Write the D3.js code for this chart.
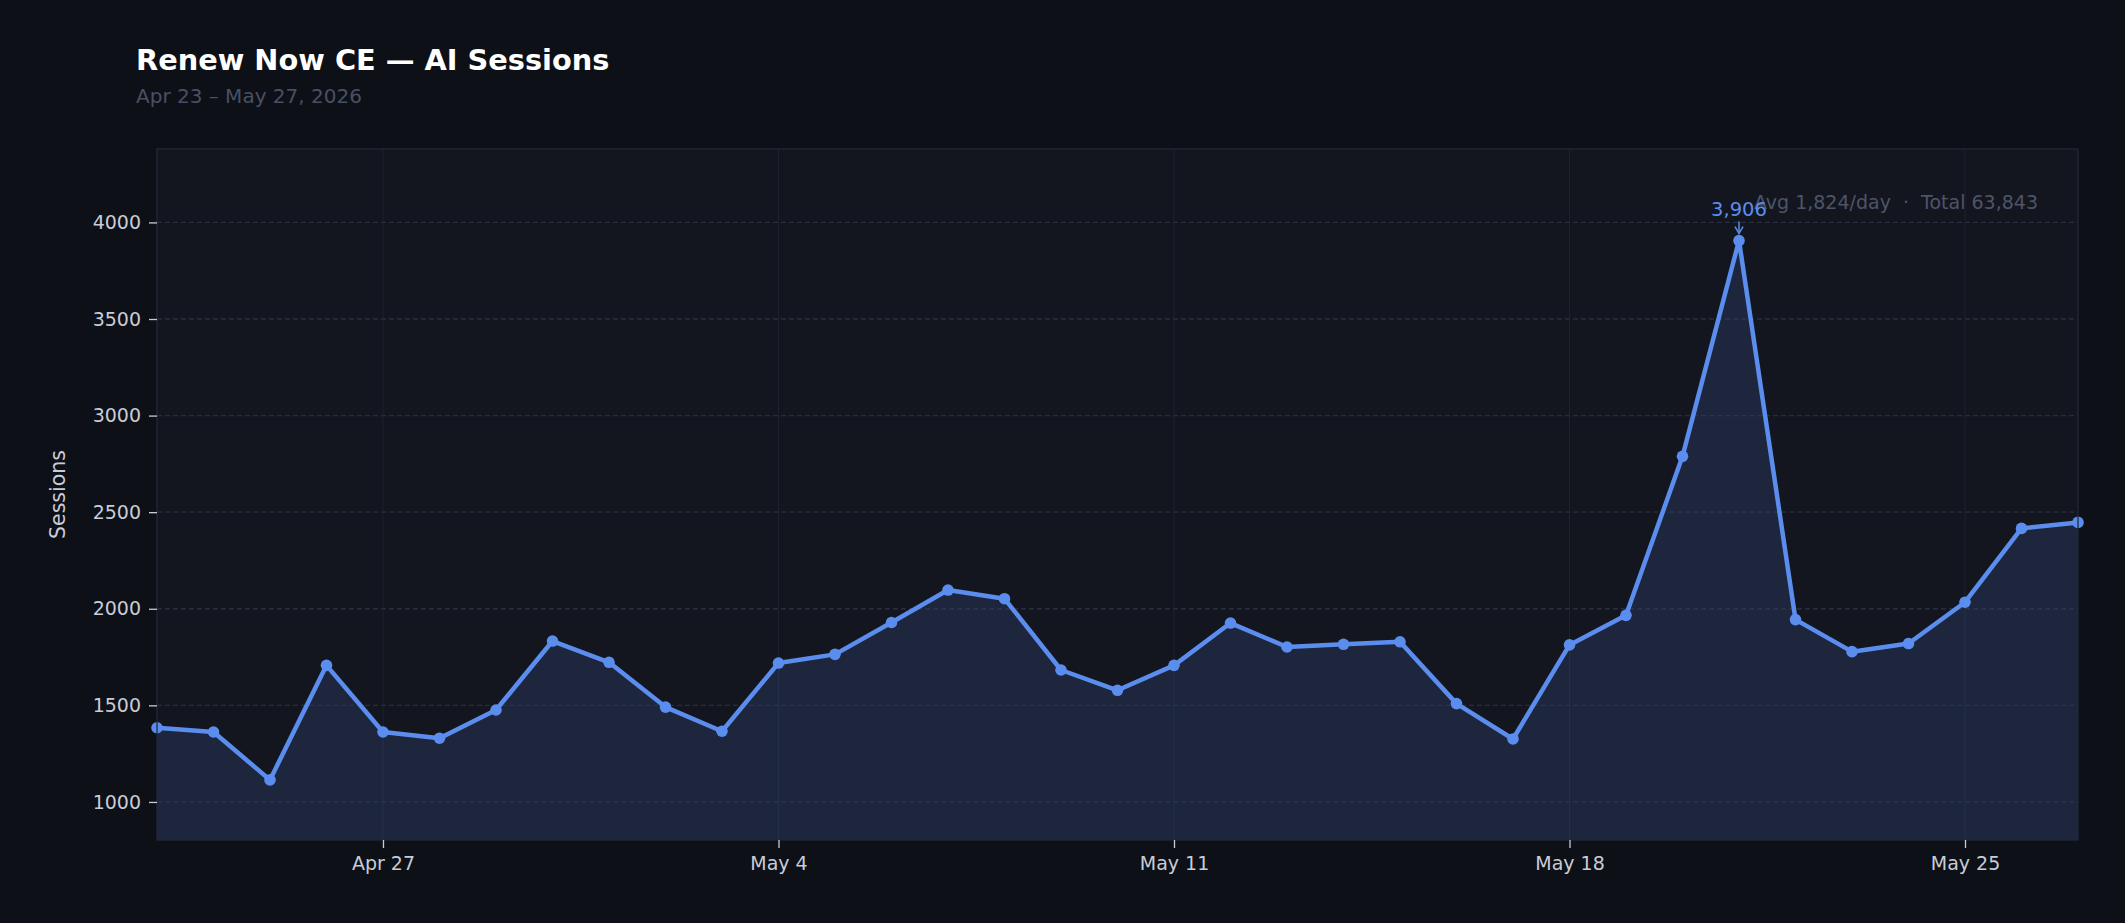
<!DOCTYPE html>
<html>
<head>
<meta charset="utf-8">
<script src="https://cdn.jsdelivr.net/npm/d3@7"></script>
<style>
  html, body { margin: 0; padding: 0; background: #0d1017; }
  svg { display: block; font-family: "DejaVu Sans", sans-serif; }
</style>
</head>
<body>
<svg id="chart" width="2125" height="923"></svg>
<script>
// ---- data ----
const dates = d3.timeDays(new Date(2026, 3, 23), new Date(2026, 4, 28)); // Apr 23 .. May 27
const sessions = [
  1384, 1362, 1114, 1707, 1362, 1330, 1476, 1833, 1723, 1491, 1366,
  1719, 1764, 1929, 2097, 2052, 1683, 1578, 1707, 1926, 1802, 1816,
  1829, 1509, 1326, 1813, 1966, 2789, 3906, 1944, 1778, 1820, 2034,
  2416, 2447
];
const yTicks = [1000, 1500, 2000, 2500, 3000, 3500, 4000];
const xTickDates = [new Date(2026, 3, 27), new Date(2026, 4, 4), new Date(2026, 4, 11), new Date(2026, 4, 18), new Date(2026, 4, 25)];
const titleText = "Renew Now CE — AI Sessions";
const subtitleText = "Apr 23 – May 27, 2026";
const yLabel = "Sessions";
const statsText = "Avg 1,824/day  ·  Total 63,843";
const peakLabel = "3,906";

const data = dates.map((d, i) => ({ date: d, value: sessions[i] }));

// ---- layout ----
const svg = d3.select("#chart");
const W = 2125, H = 923;
const plot = { left: 157, right: 2078, top: 149, bottom: 840 };

svg.append("rect").attr("width", W).attr("height", H).attr("fill", "#0d1017");

const x = d3.scaleTime()
  .domain([dates[0], dates[dates.length - 1]])
  .range([plot.left, plot.right]);
const y = d3.scaleLinear()
  .domain([803, 4380])
  .range([plot.bottom, plot.top]);

// plot background
svg.append("rect")
  .attr("x", plot.left).attr("y", plot.top)
  .attr("width", plot.right - plot.left).attr("height", plot.bottom - plot.top)
  .attr("fill", "#13161f");

// vertical grid
svg.append("g").selectAll("line").data(xTickDates).join("line")
  .attr("x1", d => x(d)).attr("x2", d => x(d))
  .attr("y1", plot.top).attr("y2", plot.bottom)
  .attr("stroke", "#1d2130").attr("stroke-width", 1);

// horizontal grid (dashed)
svg.append("g").selectAll("line").data(yTicks).join("line")
  .attr("x1", plot.left).attr("x2", plot.right)
  .attr("y1", d => y(d)).attr("y2", d => y(d))
  .attr("stroke", "#232839").attr("stroke-width", 1.3)
  .attr("stroke-dasharray", "5,3");

// area
const area = d3.area()
  .x(d => x(d.date)).y0(plot.bottom).y1(d => y(d.value));
svg.append("path").datum(data)
  .attr("d", area).attr("fill", "#5b8def").attr("fill-opacity", 0.14);

// grid lines faintly visible through the area
svg.append("g").selectAll("line").data(yTicks).join("line")
  .attr("x1", plot.left).attr("x2", plot.right)
  .attr("y1", d => y(d)).attr("y2", d => y(d))
  .attr("stroke", "#2a3247").attr("stroke-width", 1.3).attr("stroke-opacity", 0.5)
  .attr("stroke-dasharray", "5,3");

// line
const line = d3.line().x(d => x(d.date)).y(d => y(d.value));
svg.append("path").datum(data)
  .attr("d", line).attr("fill", "none")
  .attr("stroke", "#5b8def").attr("stroke-width", 4.5)
  .attr("stroke-linejoin", "round");

// markers
svg.append("g").selectAll("circle").data(data).join("circle")
  .attr("cx", d => x(d.date)).attr("cy", d => y(d.value))
  .attr("r", 5.8).attr("fill", "#5b8def");

// spines
svg.append("rect")
  .attr("x", plot.left).attr("y", plot.top)
  .attr("width", plot.right - plot.left).attr("height", plot.bottom - plot.top)
  .attr("fill", "none").attr("stroke", "#232838").attr("stroke-width", 1.3);

// y axis
const yAxis = d3.axisLeft(y).tickValues(yTicks).tickSize(8).tickPadding(8).tickFormat(d3.format("d"));
const gy = svg.append("g").attr("transform", `translate(${plot.left},0)`).call(yAxis);
gy.select(".domain").remove();
gy.selectAll(".tick line").attr("stroke", "#c8ccd6").attr("stroke-width", 1.3);
gy.selectAll(".tick text").attr("fill", "#c8ccd6").attr("font-size", 19)
  .attr("font-family", "DejaVu Sans, sans-serif");

// x axis
const xAxis = d3.axisBottom(x).tickValues(xTickDates).tickSize(8).tickPadding(9)
  .tickFormat(d3.timeFormat("%b %-d"));
const gx = svg.append("g").attr("transform", `translate(0,${plot.bottom})`).call(xAxis);
gx.select(".domain").remove();
gx.selectAll(".tick line").attr("stroke", "#c8ccd6").attr("stroke-width", 1.3);
gx.selectAll(".tick text").attr("fill", "#c8ccd6").attr("font-size", 19)
  .attr("font-family", "DejaVu Sans, sans-serif");

// y label
svg.append("text")
  .attr("transform", `translate(65,${(plot.top + plot.bottom) / 2}) rotate(-90)`)
  .attr("text-anchor", "middle")
  .attr("fill", "#c8ccd6").attr("font-size", 20.5)
  .text(yLabel);

// title & subtitle
svg.append("text").attr("x", 136).attr("y", 70)
  .attr("fill", "#ffffff").attr("font-size", 28.8).attr("font-weight", "bold")
  .text(titleText);
svg.append("text").attr("x", 136).attr("y", 103)
  .attr("fill", "#4a4f63").attr("font-size", 20)
  .text(subtitleText);

// stats annotation
svg.append("text").attr("x", 2038).attr("y", 209)
  .attr("text-anchor", "end")
  .attr("xml:space", "preserve").style("white-space", "pre")
  .attr("fill", "#4e5468").attr("font-size", 19)
  .text(statsText);

// peak annotation
const peak = data.reduce((a, b) => (b.value > a.value ? b : a));
const px = x(peak.date), py = y(peak.value);
svg.append("text").attr("x", px).attr("y", py - 25)
  .attr("text-anchor", "middle")
  .attr("fill", "#5b8def").attr("font-size", 19.5)
  .text(peakLabel);
svg.append("line")
  .attr("x1", px).attr("x2", px).attr("y1", py - 19).attr("y2", py - 7)
  .attr("stroke", "#5b8def").attr("stroke-width", 1.5);
svg.append("path")
  .attr("d", `M${px - 4},${py - 14} L${px},${py - 7} L${px + 4},${py - 14}`)
  .attr("fill", "none").attr("stroke", "#5b8def").attr("stroke-width", 1.5);
</script>
</body>
</html>
